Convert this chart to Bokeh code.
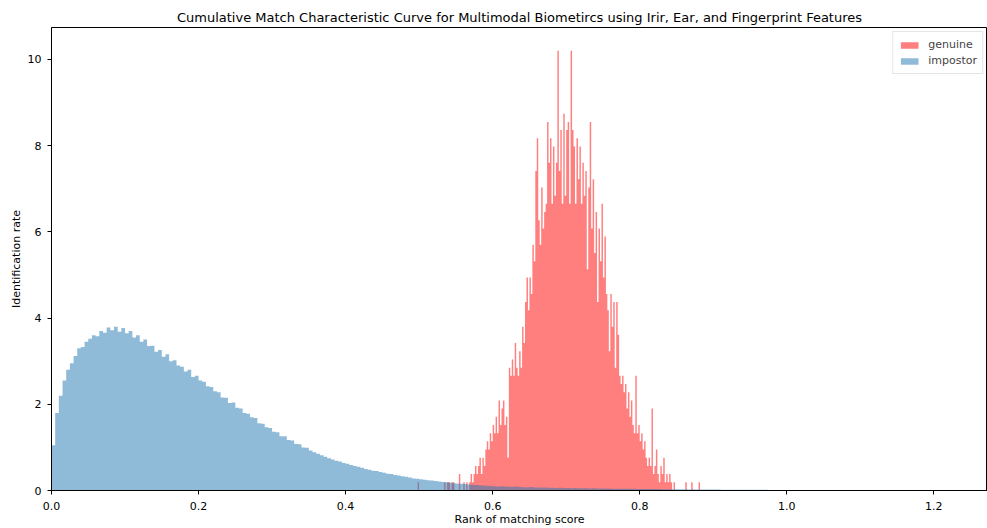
from bokeh.plotting import figure
from bokeh.models import FixedTicker, PrintfTickFormatter, Range1d
from bokeh.embed import file_html
from bokeh.resources import INLINE

# ---------------- data ----------------
genuine_start = 0.496
genuine_width = 0.002
genuine_values = [
    0, 0.19, 0, 0, 0, 0, 0, 0, 0, 0, 0, 0, 0, 0, 0, 0, 0, 0, 0, 0.19, 0, 0.19, 0.19, 0, 0.19, 0.19, 0,
    0, 0, 0.38, 0, 0, 0.19, 0, 0.19, 0, 0.19,
    0.38, 0.19, 0.38, 0.57, 0.38, 0.57, 0.76, 0.38, 0.76, 0.57,
    0.95, 1.14, 0.95, 1.33, 1.14, 1.52, 1.33, 1.71, 1.33, 2.09,
    1.52, 1.90, 2.09, 1.52, 1.71, 0.76, 2.85, 2.66, 3.04, 2.66,
    3.42, 2.85, 2.66, 3.23, 2.85, 3.80, 3.42, 4.37, 4.94, 4.18,
    4.94, 4.56, 5.70, 5.32, 7.41, 8.17, 6.27, 5.70, 7.03, 6.08,
    6.46, 6.65, 8.55, 7.60, 8.17, 6.65, 7.98, 6.84, 7.60, 10.20,
    7.41, 8.36, 6.65, 8.74, 6.84, 8.36, 8.55, 6.65, 10.20, 8.36,
    7.98, 6.65, 8.17, 7.22, 7.98, 6.65, 7.60, 6.84, 7.41, 5.13,
    7.03, 8.55, 6.08, 7.22, 5.51, 6.46, 4.37, 6.08, 5.32, 6.65,
    4.94, 5.89, 4.56, 4.18, 3.23, 4.56, 3.80, 4.37, 2.85, 4.37,
    3.61, 2.66, 2.47, 2.66, 2.28, 2.47, 1.90, 2.28, 1.71, 2.09,
    1.52, 1.33, 2.66, 1.33, 1.52, 1.14, 1.33, 0.95, 1.14, 0.76,
    0.57, 0.76, 0.57, 1.90, 0.38, 0.57, 0.95, 0.38, 0.19, 0.57,
    0.38, 0.76, 0.19, 0.38, 0.19, 0.38, 0.19, 0, 0.19, 0,
    0, 0, 0, 0, 0, 0, 0.19, 0, 0, 0,
    0.19, 0, 0, 0, 0, 0.19, 0, 0, 0,
]

impostor_start = 0.0
impostor_width = 0.005
impostor_values = [
    1.05, 1.80, 2.20, 2.55, 2.80, 2.95, 3.12, 3.30, 3.33, 3.45,
    3.52, 3.60, 3.58, 3.70, 3.66, 3.78, 3.72, 3.80, 3.68, 3.77,
    3.65, 3.70, 3.55, 3.60, 3.45, 3.50, 3.35, 3.36, 3.22, 3.26,
    3.10, 3.16, 3.00, 3.02, 2.90, 2.87, 2.76, 2.80, 2.63, 2.66,
    2.55, 2.52, 2.42, 2.40, 2.30, 2.28, 2.16, 2.15, 2.03, 2.04,
    1.92, 1.90, 1.80, 1.78, 1.70, 1.68, 1.56, 1.55, 1.47, 1.45,
    1.36, 1.35, 1.26, 1.26, 1.17, 1.16, 1.08, 1.07, 1.00, 0.99,
    0.93, 0.89, 0.85, 0.82, 0.78, 0.75, 0.72, 0.69, 0.67, 0.64,
    0.62, 0.59, 0.57, 0.55, 0.53, 0.50, 0.48, 0.46, 0.45, 0.43,
    0.41, 0.39, 0.38, 0.36, 0.35, 0.33, 0.32, 0.30, 0.28, 0.27,
    0.26, 0.25, 0.24, 0.23, 0.22, 0.21, 0.20, 0.19, 0.18, 0.17,
    0.16, 0.155, 0.15, 0.14, 0.135, 0.13, 0.12, 0.115, 0.11, 0.105,
    0.10, 0.095, 0.10, 0.09, 0.088, 0.085, 0.09, 0.08, 0.078, 0.075,
    0.08, 0.072, 0.07, 0.068, 0.07, 0.065, 0.062, 0.06, 0.063, 0.058,
    0.056, 0.055, 0.057, 0.052, 0.05, 0.05, 0.048, 0.05, 0.046, 0.045,
    0.044, 0.045, 0.042, 0.041, 0.04, 0.042, 0.039, 0.038, 0.04, 0.037,
    0.036, 0.035, 0.034, 0.035, 0.033, 0.032, 0.031, 0.03, 0.031, 0.029,
    0.028, 0.028, 0.027, 0.026, 0.027, 0.025, 0.024, 0.024, 0.023, 0.022,
    0.022, 0.021, 0.02, 0.02, 0.019, 0.019, 0.018, 0.018, 0.017, 0.017,
    0.016, 0.016, 0.015, 0.015, 0.015, 0.014, 0.014, 0.013, 0.013, 0.013,
    0.012, 0.011, 0.012, 0.010, 0.011, 0.010, 0.009, 0.010, 0.009, 0.008,
    0.009, 0.008, 0.008, 0.007, 0.008, 0.007, 0, 0, 0.006, 0.007,
    0.006, 0.006, 0.005, 0.006, 0.005, 0.005, 0.004, 0.005, 0.004, 0.004,
    0.004, 0.003, 0.004, 0.003, 0.003,
]

x_ticks = [0.0, 0.2, 0.4, 0.6, 0.8, 1.0, 1.2]
y_ticks = [0, 2, 4, 6, 8, 10]

title_text = "Cumulative Match Characteristic Curve for Multimodal Biometircs using Irir, Ear, and Fingerprint Features"
x_label = "Rank of matching score"
y_label = "Identification rate"

# ---------------- figure ----------------
FONT = "DejaVu Sans"

p = figure(width=987, height=528, output_backend="svg", toolbar_location=None,
           x_range=Range1d(0, 1.273), y_range=Range1d(0, 10.74),
           min_border_left=51, min_border_right=0, min_border_top=27, min_border_bottom=37)
p.title.text = title_text
p.title.align = "center"
p.title.text_font = FONT
p.title.text_font_size = "13px"
p.title.text_font_style = "normal"
p.title.text_color = "black"
p.title.standoff = 5

p.xgrid.visible = False
p.ygrid.visible = False
p.outline_line_color = "black"
p.outline_line_width = 1
p.background_fill_color = "white"
p.border_fill_color = "white"


def step_outline(start, width, values):
    """Histogram outline (stepped polygon) built from the bin values."""
    xs = [start]
    ys = [0.0]
    for i, v in enumerate(values):
        xs += [start + i * width, start + (i + 1) * width]
        ys += [v, v]
    xs.append(start + len(values) * width)
    ys.append(0.0)
    return xs, ys


gx, gy = step_outline(genuine_start, genuine_width, genuine_values)
ix, iy = step_outline(impostor_start, impostor_width, impostor_values)

p.patch(gx, gy, fill_color="#ff0000", fill_alpha=0.5, line_color=None, legend_label="genuine")
p.patch(ix, iy, fill_color="#1f77b4", fill_alpha=0.5, line_color=None, legend_label="impostor")

for ax in (p.xaxis[0], p.yaxis[0]):
    ax.major_label_text_font = FONT
    ax.major_label_text_font_size = "11px"
    ax.major_label_text_color = "black"
    ax.axis_label_text_font = FONT
    ax.axis_label_text_font_size = "11px"
    ax.axis_label_text_font_style = "normal"
    ax.axis_label_text_color = "black"
    ax.axis_line_color = "black"
    ax.major_tick_line_color = "black"
    ax.major_tick_in = 0
    ax.major_tick_out = 4
    ax.minor_tick_line_color = None

p.xaxis.ticker = FixedTicker(ticks=x_ticks)
p.xaxis.formatter = PrintfTickFormatter(format="%.1f")
p.xaxis.axis_label = x_label
p.xaxis.major_label_standoff = 7
p.xaxis.axis_label_standoff = 0
p.yaxis.ticker = FixedTicker(ticks=y_ticks)
p.yaxis.axis_label = y_label
p.yaxis.major_label_standoff = 6
p.yaxis.axis_label_standoff = 2

lg = p.legend[0]
lg.location = "top_right"
lg.margin = 4
lg.padding = 5
lg.spacing = 1
lg.label_height = 15
lg.glyph_height = 8
lg.glyph_width = 22
lg.label_standoff = 8
lg.label_text_font = FONT
lg.label_text_font_size = "11px"
lg.border_line_color = "#cccccc"
lg.border_line_width = 1
lg.background_fill_alpha = 0.8

open("out.html", "w").write(file_html(p, INLINE))
